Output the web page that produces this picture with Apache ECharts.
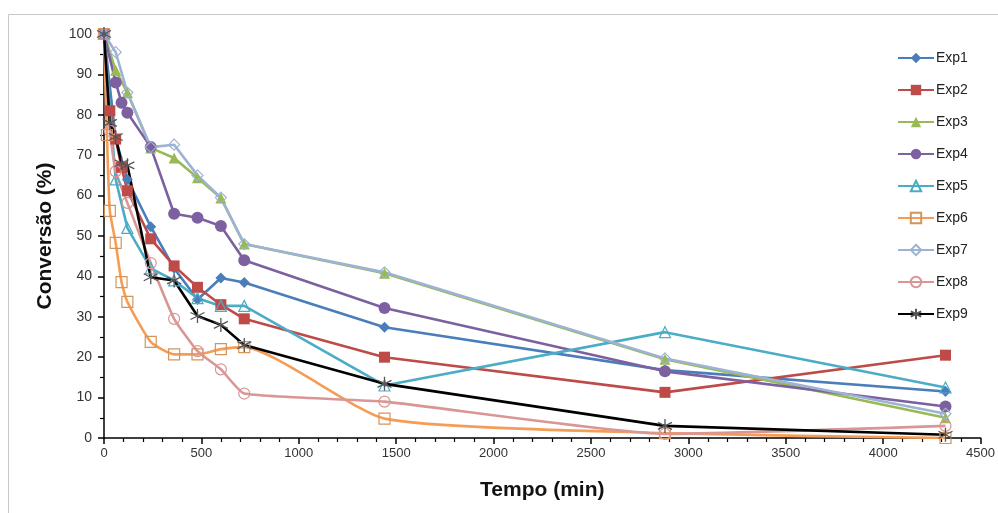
<!DOCTYPE html>
<html>
<head>
<meta charset="utf-8">
<script src="https://cdn.jsdelivr.net/npm/echarts@6/dist/echarts.min.js"></script>
<style>html,body{margin:0;padding:0;background:#fff;}#c{width:998px;height:513px;}</style>
</head>
<body>
<div id="c"></div>
<script>
// ---- data ----
const seriesNames = ['Exp1','Exp2','Exp3','Exp4','Exp5','Exp6','Exp7','Exp8','Exp9'];
const xTicks = [0,500,1000,1500,2000,2500,3000,3500,4000,4500];
const yTicks = [0,10,20,30,40,50,60,70,80,90,100];

const t1 = [0,60,120,240,360,480,600,720,1440,2880,4320];
const exp1 = [100,74,64,52.3,42,34.3,39.6,38.5,27.4,16.8,11.5];
const t2 = [0,30,60,90,120,240,360,480,600,720,1440,2880,4320];
const exp2 = [100,81,74,67,61.2,49.3,42.6,37.3,33,29.5,20,11.3,20.5];
const t3 = [0,60,120,240,360,480,600,720,1440,2880,4320];
const exp3 = [100,91,85.5,71.8,69.3,64.4,59.4,48,40.8,19.5,5];
const t4 = [0,60,90,120,240,360,480,600,720,1440,2880,4320];
const exp4 = [100,88,83,80.5,72,55.5,54.5,52.5,44,32.2,16.5,7.8];
const t5 = [0,60,120,240,360,480,600,720,1440,2880,4320];
const exp5 = [100,64,52,42,39,34.6,32.7,32.7,13,26.2,12.5];
const t6 = [0,15,30,60,90,120,240,360,480,600,720,1440,2880,4320];
const exp6 = [100,75,56.2,48.3,38.6,33.7,23.8,20.7,20.7,22,22.5,4.8,1.2,0];
const t7 = [0,60,120,240,360,480,600,720,1440,2880,4320];
const exp7 = [100,95.5,85.5,72,72.6,65,59.5,48,41,19.7,6];
const t8 = [0,30,60,120,240,360,480,600,720,1440,2880,4320];
const exp8 = [100,76,66,58.2,43.3,29.5,21.5,17,11,9,1,3];
const t9 = [0,30,60,90,120,240,360,480,600,720,1440,2880,4320];
const exp9 = [100,78,74.5,68,67.5,39.8,39,30.2,28,23,13.4,3,0.8];

const times = [t1,t2,t3,t4,t5,t6,t7,t8,t9];
const values = [exp1,exp2,exp3,exp4,exp5,exp6,exp7,exp8,exp9];

// ---- styles ----
const T = 'rgba(0,0,0,0)';
const asterisk = 'path://M5 0 L5 10 M0.8 2.5 L9.2 7.5 M0.8 7.5 L9.2 2.5';
const styles = [
  {color:'#4A7EBB', symbol:'diamond', size:11, fill:'#4A7EBB', border:'#4A7EBB', bw:0},
  {color:'#BE4B48', symbol:'rect', size:11, fill:'#BE4B48', border:'#BE4B48', bw:0},
  {color:'#98B954', symbol:'triangle', size:11, fill:'#98B954', border:'#98B954', bw:0},
  {color:'#7D60A0', symbol:'circle', size:12, fill:'#7D60A0', border:'#7D60A0', bw:0},
  {color:'#4BACC6', symbol:'triangle', size:11, fill:T, border:'#4BACC6', bw:1.2},
  {color:'#F59D56', symbol:'rect', size:11, fill:T, border:'#D4955A', bw:1.2, smooth:0.18},
  {color:'#9DB3D3', symbol:'diamond', size:11, fill:T, border:'#9DB3D3', bw:1.2},
  {color:'#D99694', symbol:'circle', size:11, fill:T, border:'#D99694', bw:1.2, smooth:0.15},
  {color:'#000000', symbol:asterisk, size:14, fill:T, border:'#555555', bw:1.3}
];

const series = seriesNames.map((name,i)=>{
  const s = styles[i];
  return {
    name: name,
    type: 'line',
    data: times[i].map((t,j)=>[t, values[i][j]]),
    symbol: s.symbol,
    symbolSize: s.size,
    smooth: s.smooth || false,
    lineStyle: {color: s.color, width: 2.6},
    itemStyle: {color: s.fill, borderColor: s.border, borderWidth: s.bw},
    emphasis: {disabled: true},
    animation: false
  };
});

const font = '"Liberation Sans", Arial, sans-serif';
const chart = echarts.init(document.getElementById('c'), null, {renderer:'canvas'});
chart.setOption({
  backgroundColor: '#fff',
  animation: false,
  graphic: [{type:'rect', shape:{x:8.5, y:14.5, width:1000, height:520}, style:{fill:'none', stroke:'#c8c8c8', lineWidth:1}, silent:true, z:-1}],
  grid: {left:104, right:15, top:34, bottom:75},
  legend: {
    orient: 'vertical',
    left: 892,
    top: 45,
    itemWidth: 36,
    itemHeight: 13,
    itemGap: 16,
    textStyle: {fontFamily: font, fontSize: 14, color:'#222', lineHeight:16, padding:[0,0,0,-3]},
    data: seriesNames
  },
  xAxis: {
    type: 'value',
    min: xTicks[0], max: xTicks[xTicks.length-1], interval: 500,
    name: 'Tempo (min)', nameLocation: 'middle', nameGap: 42,
    nameTextStyle: {fontFamily: font, fontSize: 21, fontWeight:'bold', color:'#111'},
    axisLine: {show:true, onZero:false, lineStyle:{color:'#000', width:1.5}},
    axisTick: {show:true, length:6, lineStyle:{color:'#000', width:1.5}},
    minorTick: {show:true, splitNumber:5, length:4, lineStyle:{color:'#000', width:1.2}},
    axisLabel: {fontFamily: font, fontSize: 13, color:'#333', margin: 9, formatter: v => String(v)},
    splitLine: {show:false}
  },
  yAxis: {
    type: 'value',
    min: yTicks[0], max: yTicks[yTicks.length-1], interval: 10,
    name: 'Conversão (%)', nameLocation: 'middle', nameGap: 48,
    nameTextStyle: {fontFamily: font, fontSize: 21, fontWeight:'bold', color:'#111'},
    axisLine: {show:true, lineStyle:{color:'#000', width:1.5}},
    axisTick: {show:true, length:6, lineStyle:{color:'#000', width:1.5}},
    minorTick: {show:true, splitNumber:2, length:4, lineStyle:{color:'#000', width:1.2}},
    axisLabel: {fontFamily: font, fontSize: 14, color:'#333', margin: 12, formatter: v => String(v)},
    splitLine: {show:false}
  },
  series: series
});
</script>
</body>
</html>
